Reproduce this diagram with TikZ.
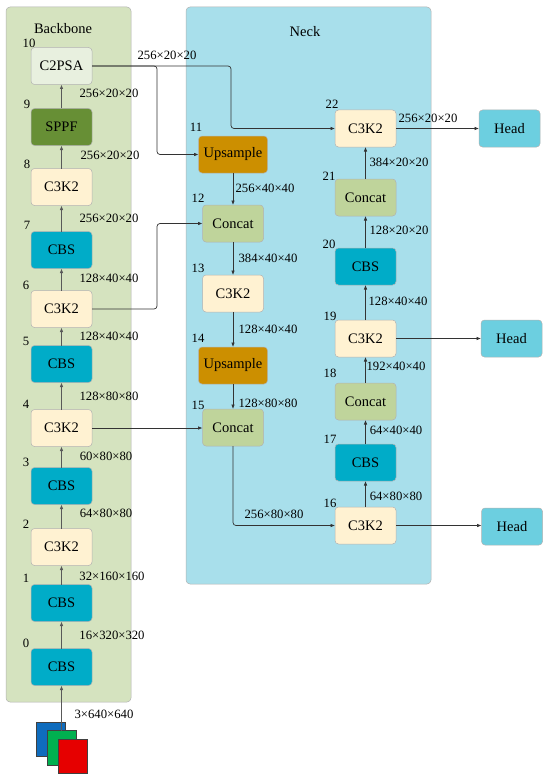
\documentclass[tikz,border=0pt]{standalone}
\usepackage{fontspec}
\setmainfont{Liberation Serif}
\usetikzlibrary{arrows.meta, positioning}

\begin{document}
\begin{tikzpicture}[
    x=1pt, y=-1pt,
    >={Latex[length=4.5pt,width=3.6pt]},
    block/.style={
      draw=black!30, line width=0.5pt, rectangle, rounded corners=3.5pt, align=center,
      outer sep=0pt, minimum width=61pt, minimum height=37pt, inner sep=0pt,
      font=\fontsize{14.5}{16}\selectfont
    },
    cbs/.style={block, fill=cbsblue},
    ctk/.style={block, fill=ctkcream},
    concat/.style={block, fill=concatgreen},
    upsample/.style={block, fill=upsampleorange, minimum width=69pt},
    head/.style={block, fill=headblue},
    panel/.style={draw=black!30, line width=0.5pt, rounded corners=4pt},
    picbox/.style={draw=black!75, line width=0.6pt, minimum width=29pt, minimum height=34.5pt, inner sep=0pt, outer sep=0pt},
    tag/.style={inner sep=0pt, font=\fontsize{12.7}{14}\selectfont},
    title/.style={inner sep=0pt, font=\fontsize{14.5}{16}\selectfont},
    flow/.style={->, draw=black!80, line width=0.7pt, rounded corners=3pt},
    mainflow/.style={flow, draw=black!65, line width=1.1pt}
]
    \definecolor{cbsblue}{HTML}{00ACC8}
    \definecolor{ctkcream}{HTML}{FFF2D2}
    \definecolor{concatgreen}{HTML}{BFD49B}
    \definecolor{upsampleorange}{HTML}{CC8F00}
    \definecolor{headblue}{HTML}{6CCFE0}
    \definecolor{sppfgreen}{HTML}{678F35}
    \definecolor{psagreen}{HTML}{E8F0DF}
    \definecolor{backbonebg}{HTML}{D5E3BF}
    \definecolor{neckbg}{HTML}{A8DFEB}
    \definecolor{picblue}{HTML}{0F6CBD}
    \definecolor{picgreen}{HTML}{00B050}
    \definecolor{picred}{HTML}{E60000}

    \useasboundingbox (0,0) rectangle (550,781);

    % Panels
    \draw[panel, fill=backbonebg] (6,7) rectangle (131,702);
    \draw[panel, fill=neckbg] (186,7) rectangle (431,584);
    \node[title] (BackboneTitle) at (63,29) {Backbone};
    \node[title] (NeckTitle) at (305,32) {Neck};

    % Backbone nodes
    \node[cbs] (Cbs0) at (61.5,667) {CBS};
    \node[cbs, above=27pt of Cbs0] (Cbs1) {CBS};
    \node[ctk, above=19pt of Cbs1] (Ctk2) {C3K2};
    \node[cbs, above=24pt of Ctk2] (Cbs3) {CBS};
    \node[ctk, above=21pt of Cbs3] (Ctk4) {C3K2};
    \node[cbs, above=27pt of Ctk4] (Cbs5) {CBS};
    \node[ctk, above=18pt of Cbs5] (Ctk6) {C3K2};
    \node[cbs, above=22pt of Ctk6] (Cbs7) {CBS};
    \node[ctk, above=26pt of Cbs7] (Ctk8) {C3K2};
    \node[block, fill=sppfgreen, above=23pt of Ctk8] (Sppf9) {SPPF};
    \node[block, fill=psagreen, above=24pt of Sppf9] (Psa10) {C2PSA};

    % Neck nodes, down the left column
    \node[upsample] (Up11) at (233,154.5) {Upsample};
    \node[concat, below=32pt of Up11] (Concat12) {Concat};
    \node[ctk, below=33pt of Concat12] (Ctk13) {C3K2};
    \node[upsample, below=35pt of Ctk13] (Up14) {Upsample};
    \node[concat, below=25pt of Up14] (Concat15) {Concat};

    % Neck nodes, up the right column
    \node[ctk] (Ctk16) at (365.5,525.5) {C3K2};
    \node[cbs, above=26pt of Ctk16] (Cbs17) {CBS};
    \node[concat, above=24pt of Cbs17] (Concat18) {Concat};
    \node[ctk, above=26pt of Concat18] (Ctk19) {C3K2};
    \node[cbs, above=35pt of Ctk19] (Cbs20) {CBS};
    \node[concat, above=32pt of Cbs20] (Concat21) {Concat};
    \node[ctk, above=32pt of Concat21] (Ctk22) {C3K2};

    % Heads
    \node[head] (HeadA) at (509.5,128.5) {Head};
    \node[head] (HeadB) at (511.5,338.5) {Head};
    \node[head] (HeadC) at (512,526.5) {Head};

    % Input picture
    \node[picbox, fill=picblue] (PicBlue) at (50.5,739.5) {};
    \node[picbox, fill=picgreen, below right=-26pt and -18pt of PicBlue] (PicGreen) {};
    \node[picbox, fill=picred, below right=-26pt and -18pt of PicGreen] (PicRed) {};

    % Bend points
    \coordinate (BendA) at (157,66);
    \coordinate (BendB) at (231,66);

    % Backbone edges
    \draw[mainflow] (PicGreen.north) -- (Cbs0);
    \draw[mainflow] (Cbs0) -- (Cbs1);
    \draw[mainflow] (Cbs1) -- (Ctk2);
    \draw[mainflow] (Ctk2) -- (Cbs3);
    \draw[mainflow] (Cbs3) -- (Ctk4);
    \draw[mainflow] (Ctk4) -- (Cbs5);
    \draw[mainflow] (Cbs5) -- (Ctk6);
    \draw[mainflow] (Ctk6) -- (Cbs7);
    \draw[mainflow] (Cbs7) -- (Ctk8);
    \draw[mainflow] (Ctk8) -- (Sppf9);
    \draw[mainflow] (Sppf9) -- (Psa10);

    % Neck edges
    \draw[flow] (Psa10.east) -- (BendA) |- (Up11.west);
    \draw[flow] (Psa10.east) -- (BendB) |- (Ctk22.west);
    \draw[flow] (Ctk6.east) -- (Ctk6.east -| BendA) |- (Concat12.west);
    \draw[flow] (Ctk4.east) -- (Ctk4.east -| Concat15.west);
    \draw[flow] (Up11) -- (Concat12);
    \draw[flow] (Concat12) -- (Ctk13);
    \draw[flow] (Ctk13) -- (Up14);
    \draw[flow] (Up14) -- (Concat15);
    \draw[flow] (Concat15.south) |- (Ctk16.west);
    \draw[flow] (Ctk16) -- (Cbs17);
    \draw[flow] (Cbs17) -- (Concat18);
    \draw[flow] (Concat18) -- (Ctk19);
    \draw[flow] (Ctk19) -- (Cbs20);
    \draw[flow] (Cbs20) -- (Concat21);
    \draw[flow] (Concat21) -- (Ctk22);
    \draw[flow] (Ctk22.east) -- (Ctk22.east -| HeadA.west);
    \draw[flow] (Ctk19.east) -- (Ctk19.east -| HeadB.west);
    \draw[flow] (Ctk16.east) -- (Ctk16.east -| HeadC.west);

    % Layer numbers
    \node[tag] (Num0) at (26,643) {0};
    \node[tag] (Num1) at (26,578) {1};
    \node[tag] (Num2) at (26,524) {2};
    \node[tag] (Num3) at (26,462) {3};
    \node[tag] (Num4) at (26,404) {4};
    \node[tag] (Num5) at (26,341) {5};
    \node[tag] (Num6) at (26,285) {6};
    \node[tag] (Num7) at (27,225) {7};
    \node[tag] (Num8) at (27,164) {8};
    \node[tag] (Num9) at (27,104) {9};
    \node[tag] (Num10) at (29,43) {10};
    \node[tag] (Num11) at (196,127) {11};
    \node[tag] (Num12) at (198,198) {12};
    \node[tag] (Num13) at (198,268) {13};
    \node[tag] (Num14) at (198,338) {14};
    \node[tag] (Num15) at (198,405) {15};
    \node[tag] (Num16) at (330,503) {16};
    \node[tag] (Num17) at (330,439) {17};
    \node[tag] (Num18) at (330,373) {18};
    \node[tag] (Num19) at (330,316) {19};
    \node[tag] (Num20) at (329,244) {20};
    \node[tag] (Num21) at (329,176) {21};
    \node[tag] (Num22) at (332,104) {22};

    % Tensor sizes
    \node[tag] (SizeIn) at (104,714) {3×640×640};
    \node[tag] (Size0) at (112,635) {16×320×320};
    \node[tag] (Size1) at (112,576) {32×160×160};
    \node[tag] (Size2) at (106,513) {64×80×80};
    \node[tag] (Size3) at (106,456) {60×80×80};
    \node[tag] (Size4) at (109,396) {128×80×80};
    \node[tag] (Size5) at (109,336) {128×40×40};
    \node[tag] (Size6) at (109,278) {128×40×40};
    \node[tag] (Size7) at (109,218) {256×20×20};
    \node[tag] (Size8) at (110,155) {256×20×20};
    \node[tag] (Size9) at (109,93) {256×20×20};
    \node[tag] (Size10) at (167,55) {256×20×20};
    \node[tag] (Size11) at (265,188) {256×40×40};
    \node[tag] (Size13) at (268,258) {384×40×40};
    \node[tag] (Size14) at (268,329) {128×40×40};
    \node[tag] (Size15) at (268,403) {128×80×80};
    \node[tag] (Size16) at (274,514) {256×80×80};
    \node[tag] (Size17) at (396,496) {64×80×80};
    \node[tag] (Size18) at (396,430) {64×40×40};
    \node[tag] (Size19) at (396,366) {192×40×40};
    \node[tag] (Size20) at (398,301) {128×40×40};
    \node[tag] (Size21) at (399,230) {128×20×20};
    \node[tag] (Size22) at (399,162) {384×20×20};
    \node[tag] (Size23) at (428,118) {256×20×20};
\end{tikzpicture}
\end{document}
